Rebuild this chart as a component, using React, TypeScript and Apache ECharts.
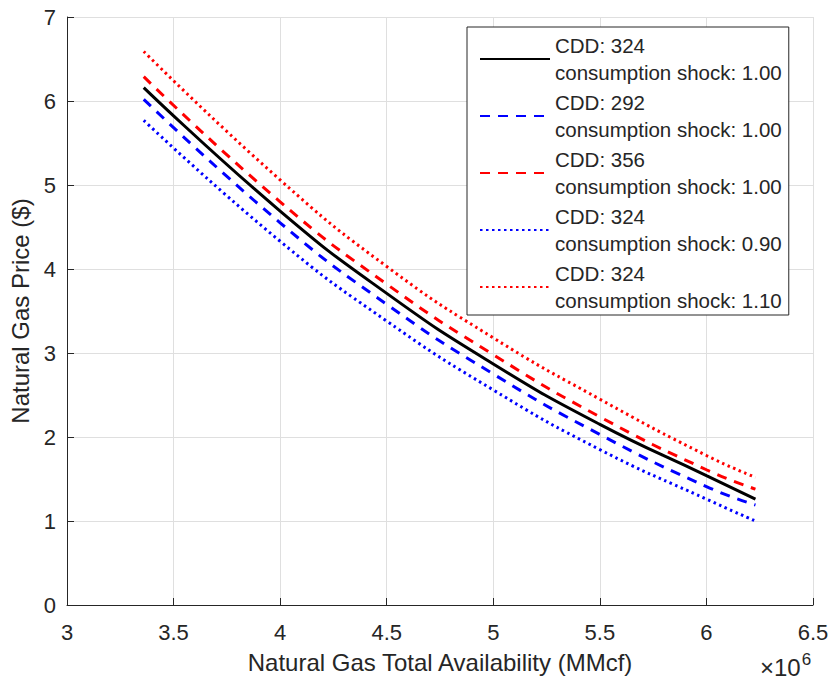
import React, { useEffect, useRef } from "react";
import * as echarts from "echarts";

const xValues = [3360000, 4000000, 4500000, 5000000, 5500000, 6000000, 6230000];

const base324 = [6.16, 4.69, 3.71, 2.87, 2.15, 1.54, 1.26];
const cdd292 = [6.02, 4.55, 3.58, 2.75, 2.03, 1.41, 1.19];
const cdd356 = [6.29, 4.8, 3.82, 2.98, 2.24, 1.61, 1.38];
const shock090 = [5.77, 4.33, 3.38, 2.56, 1.85, 1.26, 1.0];
const shock110 = [6.59, 5.06, 4.03, 3.18, 2.45, 1.78, 1.52];

const seriesNames = [
  "CDD: 324\nconsumption shock: 1.00",
  "CDD: 292\nconsumption shock: 1.00",
  "CDD: 356\nconsumption shock: 1.00",
  "CDD: 324\nconsumption shock: 0.90",
  "CDD: 324\nconsumption shock: 1.10",
];

const FONT = "'Liberation Sans', Arial, Helvetica, sans-serif";
const TXT = "#262626";

function pairs(ys: number[]) {
  return xValues.map((x, i) => [x, ys[i]]);
}

export default function App() {
  const ref = useRef<HTMLDivElement>(null);
  useEffect(() => {
    if (!ref.current) return;
    const chart = echarts.init(ref.current, undefined, { renderer: "svg" });
    const mk = (name: string, ys: number[], color: string, type: any, width: number) => ({
      name,
      type: "line",
      data: pairs(ys),
      smooth: true,
      symbol: "none",
      showSymbol: false,
      lineStyle: { color, type, width, cap: "butt" },
      itemStyle: { color },
    });
    chart.setOption({
      animation: false,
      backgroundColor: "#ffffff",
      textStyle: { fontFamily: FONT },
      grid: {
        left: 67,
        right: 20,
        top: 17,
        bottom: 74,
        containLabel: false,
        outerBoundsMode: "none",
      },
      xAxis: {
        type: "value",
        min: 3000000,
        max: 6500000,
        interval: 500000,
        name: "Natural Gas Total Availability (MMcf)",
        nameLocation: "middle",
        nameGap: 45,
        nameTextStyle: { fontSize: 24, color: TXT, fontFamily: FONT },
        axisLine: { show: true, lineStyle: { color: TXT, width: 1 } },
        axisTick: { show: true, inside: true, length: 7, lineStyle: { color: TXT } },
        axisLabel: {
          fontSize: 22,
          color: TXT,
          fontFamily: FONT,
          margin: 16,
          formatter: (v: number) => String(v / 1000000),
        },
        splitLine: { show: true, lineStyle: { color: "#dfdfdf", width: 1 } },
      },
      yAxis: {
        type: "value",
        min: 0,
        max: 7,
        interval: 1,
        name: "Natural Gas Price ($)",
        nameLocation: "middle",
        nameGap: 30,
        nameTextStyle: { fontSize: 24, color: TXT, fontFamily: FONT },
        axisLine: { show: true, lineStyle: { color: TXT, width: 1 } },
        axisTick: { show: true, inside: true, length: 7, lineStyle: { color: TXT } },
        axisLabel: { fontSize: 22, color: TXT, fontFamily: FONT, margin: 11 },
        splitLine: { show: true, lineStyle: { color: "#dfdfdf", width: 1 } },
      },
      legend: {
        orient: "vertical",
        left: 467,
        top: 27,
        itemWidth: 70,
        itemHeight: 14,
        itemGap: 3,
        padding: [5, 7, 1, 12],
        borderColor: TXT,
        borderWidth: 1,
        backgroundColor: "#ffffff",
        itemStyle: { opacity: 0, borderWidth: 0 },
        textStyle: { fontSize: 20.5, lineHeight: 27, color: TXT, fontFamily: FONT },
        data: seriesNames,
      },
      graphic: [
        {
          type: "text",
          left: 760,
          top: 651,
          style: {
            text: "{a|×10}{c|6}",
            rich: {
              a: { fontSize: 24, lineHeight: 28, fill: TXT, fontFamily: FONT, verticalAlign: "bottom" },
              c: { fontSize: 17, lineHeight: 28, fill: TXT, fontFamily: FONT, verticalAlign: "top", padding: [0, 0, 10, 1] },
            },
          },
        },
      ],
      series: [
        mk(seriesNames[0], base324, "#000000", "solid", 3),
        mk(seriesNames[1], cdd292, "#0000ff", [10, 8], 3),
        mk(seriesNames[2], cdd356, "#ff0000", [10, 8], 3),
        mk(seriesNames[3], shock090, "#0000ff", [2.5, 3.5], 3),
        mk(seriesNames[4], shock110, "#ff0000", [2.5, 3.5], 3),
      ],
    });
    return () => chart.dispose();
  }, []);
  return (
    <div
      ref={ref}
      style={{ position: "absolute", left: 0, top: 0, width: 833, height: 679 }}
    />
  );
}
